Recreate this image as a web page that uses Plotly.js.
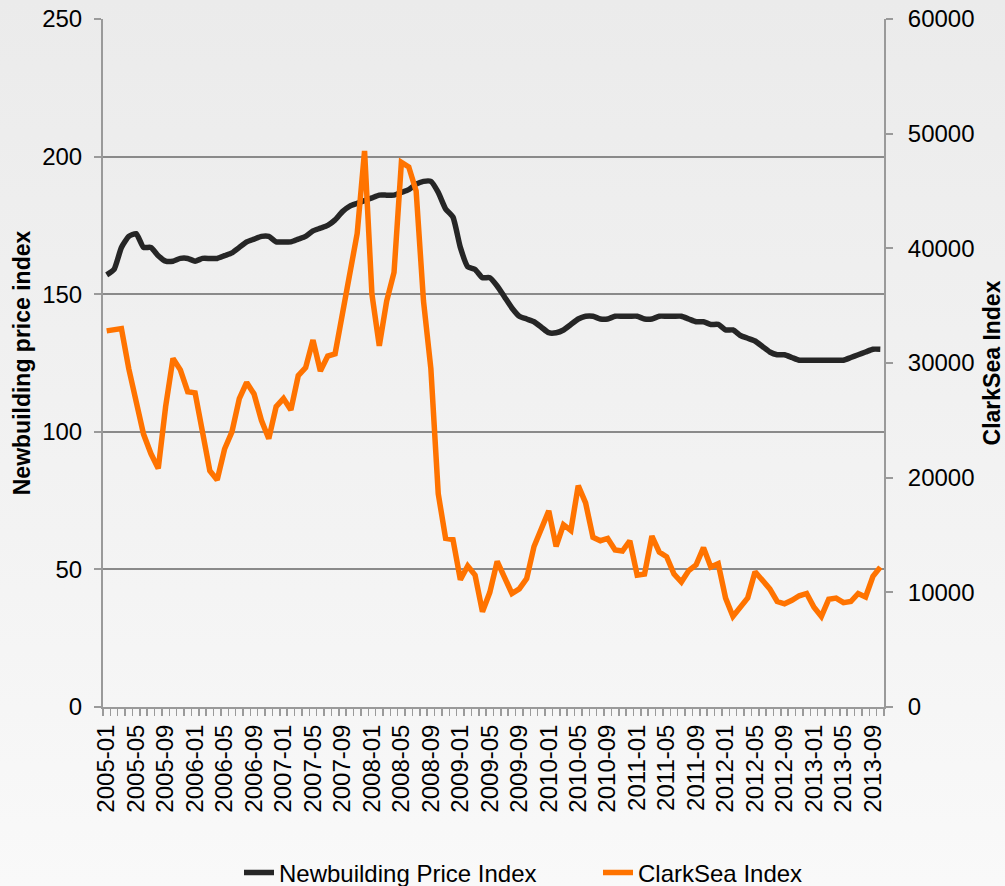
<!DOCTYPE html>
<html>
<head>
<meta charset="utf-8">
<script src="https://cdn.plot.ly/plotly-3.0.1.min.js"></script>
<style>
  html, body { margin: 0; padding: 0; }
  #chart { width: 1005px; height: 886px; background: linear-gradient(to bottom, #ebebeb 0%, #f3f3f3 60%, #f9f9f9 100%); }
</style>
</head>
<body>
<div id="chart"></div>
<script>
// Categories: monthly, 2005-01 .. 2013-10
const months = [];
for (let y = 2005; y <= 2013; y++) {
  for (let m = 1; m <= 12; m++) {
    if (y === 2013 && m > 10) break;
    months.push(y + '-' + (m < 10 ? '0' + m : '' + m));
  }
}

// Newbuilding Price Index (left axis)
const newbuildingIndex = [
  157, 159, 167, 171, 172, 167, 167, 164, 162, 162, 163, 163,
  162, 163, 163, 163, 164, 165, 167, 169, 170, 171, 171, 169,
  169, 169, 170, 171, 173, 174, 175, 177, 180, 182, 183, 184,
  185, 186, 186, 186, 187, 188, 190, 191, 191, 187, 181, 178,
  167, 160, 159, 156, 156, 153, 149, 145, 142, 141, 140, 138,
  136, 136, 137, 139, 141, 142, 142, 141, 141, 142, 142, 142,
  142, 141, 141, 142, 142, 142, 142, 141, 140, 140, 139, 139,
  137, 137, 135, 134, 133, 131, 129, 128, 128, 127, 126, 126,
  126, 126, 126, 126, 126, 127, 128, 129, 130, 130
];

// ClarkSea Index (right axis, $/day)
const clarkSeaIndex = [
  32800, 32900, 33000, 29500, 26500, 23800, 22100, 20800, 26200, 30400, 29400, 27500,
  27400, 24100, 20600, 19800, 22500, 24000, 26900, 28300, 27300, 25000, 23400, 26200,
  26900, 25900, 28900, 29600, 32000, 29300, 30600, 30800, 34400, 37900, 41300, 48500,
  36000, 31500, 35400, 37900, 47500, 47100, 45000, 35400, 29500, 18600, 14700, 14600,
  11100, 12300, 11500, 8300, 10000, 12700, 11300, 9900, 10300, 11200, 14000, 15600,
  17100, 14000, 15900, 15400, 19300, 17800, 14800, 14500, 14700, 13700, 13600, 14500,
  11500, 11600, 14900, 13500, 13100, 11600, 10900, 11900, 12400, 13900, 12200, 12500,
  9500, 7900, 8700, 9500, 11800, 11100, 10300, 9200, 9000, 9300, 9700, 9900,
  8700, 7900, 9400, 9500, 9100, 9200, 9900, 9600, 11400, 12200
];

const seriesNames = ['Newbuilding Price Index', 'ClarkSea Index'];
const leftTitle = 'Newbuilding price index';
const rightTitle = 'ClarkSea Index';

const xIdx = months.map((m, i) => i);
const tickVals = xIdx.filter(i => i % 4 === 0);
const tickText = tickVals.map(i => months[i]);

const FONT = '"Liberation Sans", Arial, sans-serif';
const AXIS_COLOR = '#9a9a9a';

const traces = [
  {
    x: xIdx, y: newbuildingIndex, name: seriesNames[0],
    type: 'scatter', mode: 'lines', yaxis: 'y', legend: 'legend',
    line: { color: '#262626', width: 5.5, shape: 'spline', smoothing: 0.5 },
    text: months, hovertemplate: '%{text}: %{y}<extra></extra>'
  },
  {
    x: xIdx, y: clarkSeaIndex, name: seriesNames[1],
    type: 'scatter', mode: 'lines', yaxis: 'y2', legend: 'legend2',
    line: { color: '#ff7300', width: 5.5 },
    text: months, hovertemplate: '%{text}: %{y}<extra></extra>'
  }
];

const legendBase = {
  orientation: 'h', xref: 'container', yref: 'container',
  xanchor: 'left', y: 0.0147, yanchor: 'middle',
  font: { family: FONT, size: 24, color: '#000' },
  bgcolor: 'rgba(0,0,0,0)'
};

const layout = {
  width: 1005, height: 886,
  paper_bgcolor: 'rgba(0,0,0,0)',
  plot_bgcolor: 'rgba(0,0,0,0)',
  font: { family: FONT, size: 24, color: '#000' },
  margin: { l: 103, r: 121, t: 19, b: 179, pad: 0 },
  showlegend: true,
  legend: Object.assign({}, legendBase, { x: 239 / 1005 }),
  legend2: Object.assign({}, legendBase, { x: 598 / 1005 }),
  xaxis: {
    type: 'linear', range: [-0.5, months.length - 0.5],
    tickmode: 'array', tickvals: tickVals, ticktext: tickText,
    tickangle: -90, ticks: '', ticklabelstandoff: 6,
    tickfont: { family: FONT, size: 24, color: '#000' },
    showgrid: false, zeroline: false,
    showline: true, linecolor: AXIS_COLOR, linewidth: 2,
    minor: { ticks: 'outside', tick0: 0.5, dtick: 1, ticklen: 7, tickcolor: AXIS_COLOR, tickwidth: 1.5, showgrid: false }
  },
  yaxis: {
    range: [0, 250], dtick: 50, tick0: 0,
    ticks: 'outside', ticklen: 7, tickcolor: AXIS_COLOR, tickwidth: 2,
    ticklabelstandoff: 7,
    showline: true, linecolor: AXIS_COLOR, linewidth: 2,
    showgrid: true, gridcolor: '#8a8a8a', gridwidth: 2,
    zeroline: false,
    tickfont: { family: FONT, size: 24, color: '#000' },
    title: { text: leftTitle, font: { family: FONT, size: 23, color: '#000', weight: 'bold' }, standoff: 5 }
  },
  yaxis2: {
    range: [0, 60000], dtick: 10000, tick0: 0, tickformat: 'd',
    overlaying: 'y', side: 'right',
    ticks: 'outside', ticklen: 7, tickcolor: AXIS_COLOR, tickwidth: 2,
    ticklabelstandoff: 10,
    showline: true, linecolor: AXIS_COLOR, linewidth: 2,
    showgrid: false, zeroline: false,
    tickfont: { family: FONT, size: 24, color: '#000' },
    title: { text: rightTitle, font: { family: FONT, size: 23, color: '#000', weight: 'bold' }, standoff: 14 }
  }
};

Plotly.newPlot('chart', traces, layout, { displayModeBar: false, staticPlot: true });
</script>
</body>
</html>
